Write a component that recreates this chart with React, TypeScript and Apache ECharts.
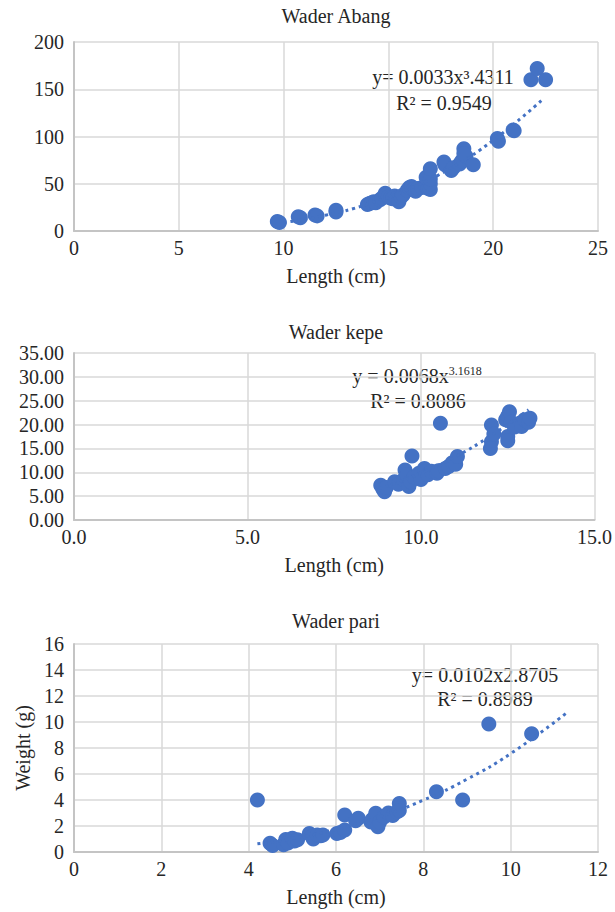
import React, { useEffect, useRef } from "react";
import * as echarts from "echarts";

// ---------- Data ----------
const titles = ["Wader Abang", "Wader kepe", "Wader pari"];

// Wader Abang: [length (cm), weight (g)]
const abangPoints: number[][] = [
  [9.7, 10], [9.8, 9], [10.7, 15], [10.8, 14], [11.5, 17], [11.6, 16], [12.5, 22], [12.5, 20],
  [14.0, 28], [14.1, 29], [14.2, 30], [14.3, 31], [14.4, 30], [14.6, 33], [14.7, 35], [14.85, 40],
  [14.9, 38], [15.0, 36], [15.1, 35], [15.2, 34], [15.3, 37], [15.4, 35], [15.5, 33], [15.5, 31],
  [15.6, 36], [15.7, 38], [15.9, 43], [16.0, 46], [16.1, 47], [16.2, 44], [16.3, 42], [16.4, 45],
  [16.6, 46], [16.8, 47], [16.9, 45], [17.0, 44], [17.0, 50], [16.8, 57], [17.0, 55], [17.0, 66],
  [17.65, 73], [17.7, 70], [18.0, 64], [18.1, 67], [18.4, 71], [18.5, 74], [18.6, 87], [18.7, 79],
  [18.6, 82], [19.05, 70], [20.2, 98], [20.25, 95], [20.95, 107], [21.0, 106],
  [21.8, 160], [22.1, 172], [22.5, 160],
];
// trendline as drawn (y = 0.0033x^3.4311)
const abangTrendX = [10, 12, 14, 16, 18, 20, 22.35];
const abangTrendY = [8.9, 16.7, 28.3, 44.7, 66.9, 96.0, 139];

// Wader kepe
const kepePoints: number[][] = [
  [8.84, 7.3], [8.9, 6.5], [8.95, 5.9], [9.0, 6.8], [9.24, 8.0], [9.35, 7.5], [9.5, 8.5], [9.54, 10.5],
  [9.6, 9.5], [9.65, 7.0], [9.7, 8.0], [9.74, 13.4], [9.8, 9.0], [9.94, 9.8], [10.0, 8.5], [10.1, 10.8],
  [10.2, 9.5], [10.3, 10.2], [10.46, 9.8], [10.5, 10.3], [10.56, 20.3], [10.7, 10.8], [10.8, 11.2],
  [10.9, 12.0], [11.0, 11.7], [11.05, 13.3], [12.03, 19.9], [12.03, 16.4], [12.0, 15.0], [12.1, 18.0],
  [12.44, 21.0], [12.5, 21.8], [12.55, 22.7], [12.5, 17.5], [12.5, 16.6], [12.6, 20.5], [12.7, 19.5],
  [12.9, 19.6], [12.98, 21.0], [13.1, 20.5], [13.14, 21.3],
];
// trendline as drawn (y = 0.0068x^3.1618)
const kepeTrendX = [8.8, 9.5, 10, 11, 12, 13.1];
const kepeTrendY = [6.59, 8.39, 9.87, 13.3, 17.6, 23.1];

// Wader pari
const pariPoints: number[][] = [
  [4.2, 4.0], [4.49, 0.67], [4.55, 0.5], [4.8, 0.55], [4.85, 0.97], [4.9, 0.7], [5.0, 1.05], [5.05, 0.85],
  [5.12, 0.95], [5.39, 1.43], [5.45, 1.2], [5.48, 1.0], [5.57, 1.3], [5.65, 1.25], [5.7, 1.3], [6.02, 1.43],
  [6.1, 1.5], [6.2, 1.7], [6.2, 2.85], [6.51, 2.6], [6.45, 2.4], [6.8, 2.3], [6.83, 2.5], [6.91, 2.98],
  [6.96, 1.95], [7.0, 2.3], [7.1, 2.7], [7.2, 3.0], [7.3, 2.8], [7.4, 3.1], [7.45, 3.74], [7.45, 3.2],
  [8.3, 4.64], [8.9, 4.0], [9.5, 9.85], [10.48, 9.1],
];
// trendline as drawn (y = 0.0102x^2.8705)
const pariTrendX = [4.2, 5, 6, 7, 8, 9, 10, 11.3];
const pariTrendY = [0.63, 1.04, 1.75, 2.72, 3.99, 5.6, 7.57, 10.75];

// axis ranges / ticks
const xMax = [25, 15, 12];
const xInterval = [5, 5, 2];
const yMax = [200, 35, 16];
const yInterval = [50, 5, 2];
const xDecimals = [0, 1, 0];
const yDecimals = [0, 2, 0];

const FONT = '"Liberation Serif", "Times New Roman", serif';
const BLUE = "#4472C4";
const TEXT = "#262626";

export default function App() {
  const ref = useRef<HTMLDivElement>(null);

  useEffect(() => {
    if (!ref.current) return;
    const chart = echarts.init(ref.current, undefined, { renderer: "svg" });

    const grids = [
      { left: 74, top: 42, width: 524, height: 189 },
      { left: 74, top: 353, width: 524, height: 167 },
      { left: 74, top: 644, width: 524, height: 208 },
    ];
    const titleTops = [6, 322, 611];

    const labelStyle = { color: TEXT, fontFamily: FONT, fontSize: 20 };

    const xAxes = [0, 1, 2].map((i) => ({
      type: "value",
      gridIndex: i,
      min: 0,
      max: xMax[i],
      interval: xInterval[i],
      axisLine: { show: true, onZero: false, lineStyle: { color: "#c4c4c4", width: 2 } },
      axisTick: { show: false },
      splitLine: { show: true, lineStyle: { color: "#d9d9d9", width: 1.5 } },
      axisLabel: {
        ...labelStyle,
        margin: 7,
        formatter: (v: number) => v.toFixed(xDecimals[i]),
      },
      name: "Length (cm)",
      nameLocation: "middle",
      nameGap: 35,
      nameTextStyle: { ...labelStyle },
    }));

    const yAxes = [0, 1, 2].map((i) => ({
      type: "value",
      gridIndex: i,
      min: 0,
      max: yMax[i],
      interval: yInterval[i],
      axisLine: { show: true, onZero: false, lineStyle: { color: "#c4c4c4", width: 2 } },
      axisTick: { show: false },
      splitLine: { show: true, lineStyle: { color: "#d9d9d9", width: 1.5 } },
      axisLabel: {
        ...labelStyle,
        margin: 10,
        formatter: (v: number) => v.toFixed(yDecimals[i]),
      },
      name: i === 2 ? "Weight (g)" : "",
      nameLocation: "middle",
      nameGap: 39,
      nameTextStyle: { ...labelStyle },
    }));

    const pointsSets = [abangPoints, kepePoints, pariPoints];
    const trendX = [abangTrendX, kepeTrendX, pariTrendX];
    const trendY = [abangTrendY, kepeTrendY, pariTrendY];

    const series: any[] = [];
    [0, 1, 2].forEach((i) => {
      series.push({
        type: "scatter",
        xAxisIndex: i,
        yAxisIndex: i,
        data: pointsSets[i],
        symbol: "circle",
        symbolSize: 15,
        itemStyle: { color: BLUE, opacity: 1 },
        silent: true,
      });
      series.push({
        type: "line",
        xAxisIndex: i,
        yAxisIndex: i,
        data: trendX[i].map((x, k) => [x, trendY[i][k]]),
        smooth: true,
        showSymbol: false,
        lineStyle: { color: BLUE, width: 3, type: [3, 4] },
        silent: true,
        z: 3,
      });
    });

    const eqStyle = { fill: TEXT, font: `20px ${FONT}`, align: "center", verticalAlign: "middle" };

    const graphic: any[] = [
      { type: "text", x: 443, y: 77, style: { ...eqStyle, text: "y= 0.0033x\u00B3.4311" } },
      { type: "text", x: 444, y: 103, style: { ...eqStyle, text: "R\u00B2 = 0.9549" } },
      {
        type: "text",
        x: 417,
        y: 376,
        style: {
          ...eqStyle,
          text: "{n|y = 0.0068x}{s|3.1618}",
          rich: {
            n: { fontFamily: FONT, fontSize: 20, fill: TEXT, lineHeight: 22 },
            s: { fontFamily: FONT, fontSize: 12, fill: TEXT, verticalAlign: "top", lineHeight: 22, padding: [0, 0, 10, 0] },
          },
        },
      },
      { type: "text", x: 418, y: 401, style: { ...eqStyle, text: "R\u00B2 = 0.8086" } },
      { type: "text", x: 485, y: 675, style: { ...eqStyle, text: "y= 0.0102x2.8705" } },
      { type: "text", x: 485, y: 699, style: { ...eqStyle, text: "R\u00B2 = 0.8989" } },
    ];

    chart.setOption({
      animation: false,
      backgroundColor: "#ffffff",
      title: titles.map((t, i) => ({
        text: t,
        left: 336,
        top: titleTops[i],
        textAlign: "center",
        padding: 0,
        textStyle: { color: TEXT, fontFamily: FONT, fontSize: 20, fontWeight: "normal", lineHeight: 20 },
      })),
      grid: grids,
      xAxis: xAxes,
      yAxis: yAxes,
      series,
      graphic,
    });

    return () => chart.dispose();
  }, []);

  return (
    <div
      ref={ref}
      style={{ position: "absolute", left: 0, top: 0, width: 615, height: 912, background: "#fff" }}
    />
  );
}
